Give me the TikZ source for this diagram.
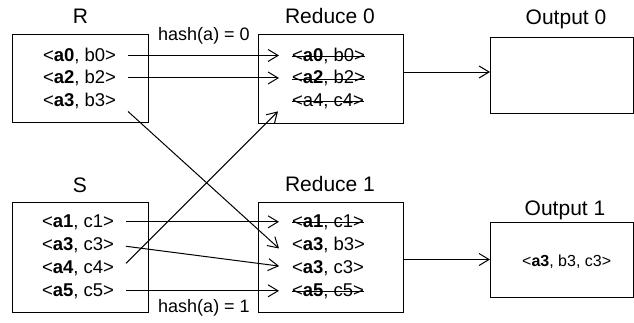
\documentclass[tikz,border=0pt]{standalone}
\usepackage{fontspec}
\setmainfont{Liberation Sans}
\usetikzlibrary{arrows.meta,calc}
\begin{document}
\begin{tikzpicture}[x=1pt,y=-1pt,
  box/.style={draw,line width=1pt,inner sep=0pt,outer sep=0pt},
  row/.style={anchor=base west,inner sep=0pt,outer sep=0pt,font=\fontsize{18.5}{20}\selectfont},
  lbl/.style={anchor=base,inner sep=0pt,font=\fontsize{21}{24}\selectfont},
  hashlbl/.style={anchor=base,inner sep=0pt,font=\fontsize{18}{20}\selectfont},
  outtxt/.style={anchor=base west,inner sep=0pt,font=\fontsize{16}{18}\selectfont},
  arr/.style={line width=1pt,-{Straight Barb[length=10pt,width=12pt]}},
  harr/.style={arr,shorten <=12pt,shorten >=13pt},
  strike/.style={line width=0.9pt},
]
\useasboundingbox (0,0) rectangle (634,322);

% boxes
\node[box,minimum width=136pt,minimum height=88pt] (Rbox) at (80,78) {};
\node[box,minimum width=145pt,minimum height=89pt] (D0box) at (330.5,78.5) {};
\node[box,minimum width=143pt,minimum height=76pt] (O0box) at (561.5,75) {};
\node[box,minimum width=136pt,minimum height=110pt] (Sbox) at (80,257) {};
\node[box,minimum width=145pt,minimum height=110pt] (E1box) at (330.5,257) {};
\node[box,minimum width=143pt,minimum height=75pt] (O1box) at (561.5,259.5) {};

% titles
\node[lbl] (Rl) at (80.5,23) {R};
\node[lbl] (D0l) at (330,23) {Reduce 0};
\node[lbl] (O0l) at (566,24) {Output 0};
\node[lbl] (Sl) at (80,192) {S};
\node[lbl] (E1l) at (330,191) {Reduce 1};
\node[lbl] (O1l) at (565,215) {Output 1};

\node[hashlbl] (h0) at (204,40) {hash(a) = 0};
\node[hashlbl] (h1) at (204,312) {hash(a) = 1};

% R rows
\node[row] (r0) at (43,61) {<\textbf{a0}, b0>};
\node[row] (r1) at (43,83.5) {<\textbf{a2}, b2>};
\node[row] (r2) at (43,106) {<\textbf{a3}, b3>};

% Reduce 0 rows
\node[row] (d0) at (292,61) {<\textbf{a0}, b0>};
\node[row] (d1) at (292,83.5) {<\textbf{a2}, b2>};
\node[row] (d2) at (292,106) {<a4, c4>};

% S rows
\node[row] (s0) at (42,227) {<\textbf{a1}, c1>};
\node[row] (s1) at (42,250) {<\textbf{a3}, c3>};
\node[row] (s2) at (42,273) {<\textbf{a4}, c4>};
\node[row] (s3) at (42,296) {<\textbf{a5}, c5>};

% Reduce 1 rows
\node[row] (e0) at (292,227) {<\textbf{a1}, c1>};
\node[row] (e1) at (292,250) {<\textbf{a3}, b3>};
\node[row] (e2) at (292,273) {<\textbf{a3}, c3>};
\node[row] (e3) at (292,296) {<\textbf{a5}, c5>};

% Output 1 text
\node[outtxt] (o1) at (522,266) {<\textbf{a3}, b3, c3>};

% strike-throughs
\foreach \n in {d0,d1,d2,e0,e3}
  \draw[strike] ([yshift=4.5pt]\n.base west) -- ([yshift=4.5pt]\n.base east);

% arrows
\draw[harr] (r0.east) -- (d0.west);
\draw[harr] (r1.east) -- (d1.west);
\draw[arr] ($(r2.east)+(12,11)$) -- ($(e1.west)+(-13,4)$);
\draw[harr] (s0.east) -- (e0.west);
\draw[harr] (s1.east) -- (e2.west);
\draw[arr] ($(s2.east)+(12,-4.5)$) -- ($(d2.west)+(-14,10.5)$);
\draw[harr] (s3.east) -- (e3.west);

\draw[arr] ($(D0box.east)+(0,-6.5)$) -- ($(O0box.west)+(0,-3)$);
\draw[arr] (E1box.east |- O1box.west) -- (O1box.west);
\end{tikzpicture}
\end{document}
